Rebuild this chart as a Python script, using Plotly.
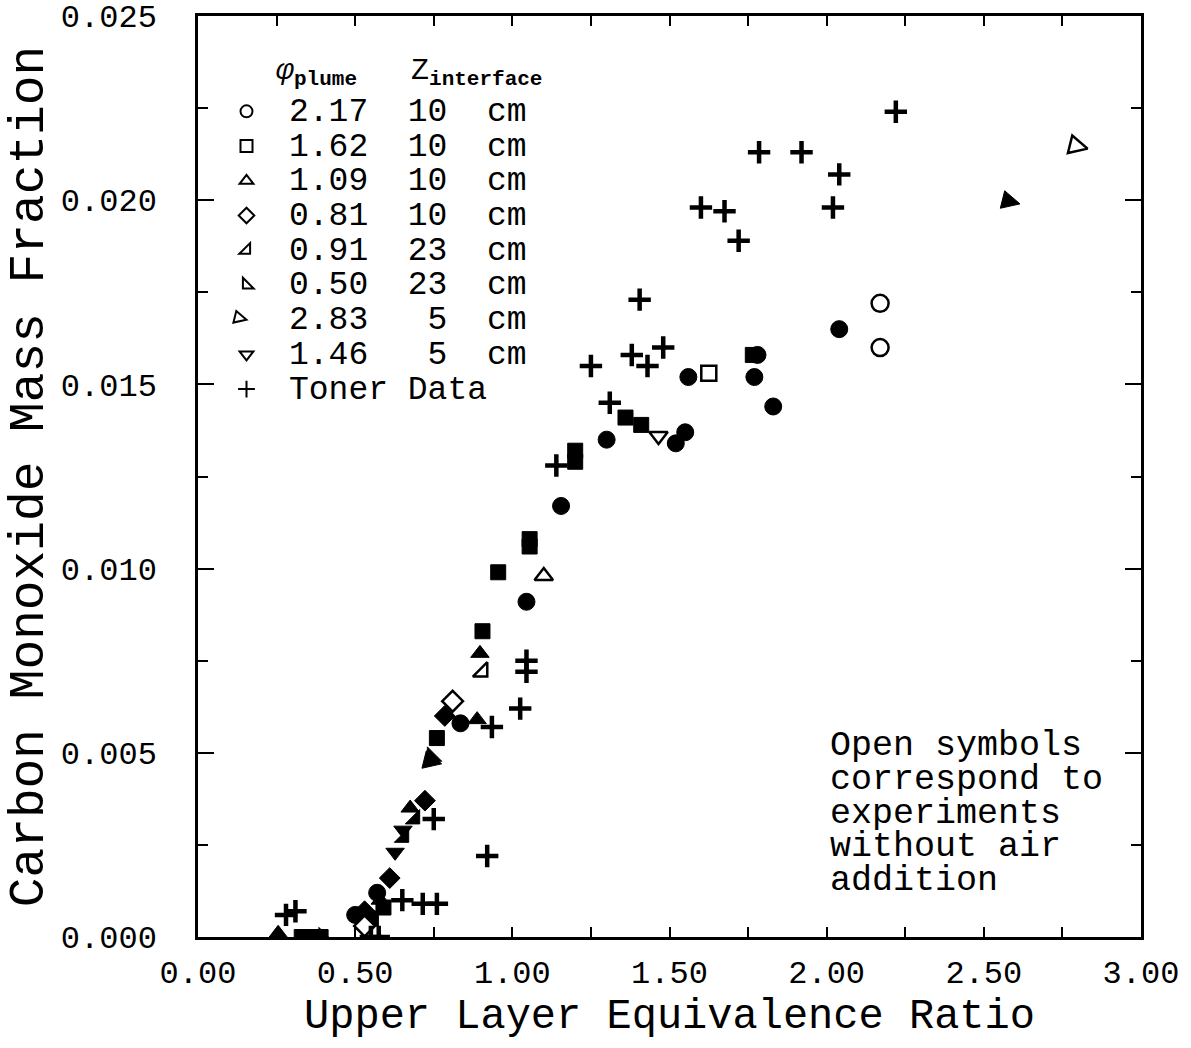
import plotly.graph_objects as go

# ---------------- data ----------------
phi_plume = ["2.17", "1.62", "1.09", "0.81", "0.91", "0.50", "2.83", "1.46"]
z_interface = ["10", "10", "10", "10", "23", "23", "5", "5"]

# filled symbols: experiments with air addition
air_x = [
    [2.04, 1.78, 1.77, 1.83, 1.56, 1.55, 1.52, 1.30, 1.155, 1.045, 0.835, 0.57, 0.50],
    [1.36, 1.41, 1.20, 1.20, 1.055, 1.055, 0.955, 0.905, 0.76, 1.765, 0.33, 0.36, 0.39, 0.59, 0.55],
    [0.897, 0.888, 0.675, 0.255, 0.58],
    [0.785, 0.722, 0.61, 0.53],
    [0.69, 0.655],
    [0.745, 0.40],
    [2.615, 0.775],
    [0.652, 0.627],
]
air_y = [
    [0.0165, 0.0158, 0.0152, 0.0144, 0.0152, 0.0137, 0.0134, 0.0135, 0.0117, 0.0091, 0.0058, 0.0012, 0.0006],
    [0.0141, 0.0139, 0.0132, 0.0129, 0.0108, 0.0106, 0.0099, 0.0083, 0.0054, 0.0158, 0.0, 0.0, 0.0, 0.0008, 0.0005],
    [0.0077, 0.0059, 0.0035, 0.0001, 0.0010],
    [0.0060, 0.0037, 0.0016, 0.0007],
    [0.0032, 0.0027],
    [0.0049, 0.0000],
    [0.0199, 0.0047],
    [0.0029, 0.0023],
]
# open symbols: experiments without air addition
noair_x = [[2.17, 2.17], [1.625], [1.10], [0.81, 0.53], [0.905], [None], [2.83], [1.465]]
noair_y = [[0.0172, 0.0160], [0.0153], [0.0098], [0.0064, 0.0003], [0.0072], [None], [0.0214], [0.0136]]

toner_x = [2.22, 1.785, 1.92, 2.04, 2.02, 1.60, 1.675, 1.72, 1.405, 1.38, 1.43, 1.48,
           1.25, 1.31, 1.14, 1.045, 1.045, 1.025, 0.935, 0.75, 0.92, 0.65, 0.715, 0.76,
           0.28, 0.31, 0.55, 0.575]
toner_y = [0.0224, 0.0213, 0.0213, 0.0207, 0.0198, 0.0198, 0.0197, 0.0189, 0.0173, 0.0158, 0.0155, 0.0160,
           0.0155, 0.0145, 0.0128, 0.0075, 0.0072, 0.0062, 0.0057, 0.0032, 0.0022, 0.0010, 0.0009, 0.0009,
           0.0006, 0.0007, 0.0000, 0.0000]

note_lines = ["Open symbols", "correspond to", "experiments", "without air", "addition"]
legend_header = "<i>φ</i><sub><b>plume</b></sub>   Z<sub><b>interface</b></sub>"

# ---------------- styles ----------------
SYMBOLS = ["circle", "square", "triangle-up", "diamond", "triangle-se", "triangle-sw", "arrow-right", "triangle-down"]
ANGLES = [0, 0, 0, 0, 0, 0, 14, 0]
SIZES = [17, 15, 16, 16, 16, 16, 18, 16]
MONO = "Liberation Mono"

fig = go.Figure()

for i in range(len(phi_plume)):
    fig.add_trace(go.Scatter(
        x=air_x[i], y=air_y[i], mode="markers",
        legendgroup=f"g{i}", showlegend=False,
        marker=dict(symbol=SYMBOLS[i], angle=ANGLES[i], size=SIZES[i], color="black",
                    line=dict(color="black", width=1)),
        hoverinfo="x+y",
    ))

for i in range(len(phi_plume)):
    name = f'<span style="font-size:33px">{phi_plume[i]}  {z_interface[i]:>2}  cm</span>'
    fig.add_trace(go.Scatter(
        x=noair_x[i], y=noair_y[i], mode="markers", name=name,
        legendgroup=f"g{i}", showlegend=True,
        marker=dict(symbol=SYMBOLS[i], angle=ANGLES[i], size=SIZES[i], color="white",
                    line=dict(color="black", width=2.5)),
        hoverinfo="x+y",
    ))

fig.add_trace(go.Scatter(
    x=toner_x, y=toner_y, mode="markers",
    name='<span style="font-size:33px">Toner Data</span>',
    marker=dict(symbol="cross-thin", size=16, color="black", line=dict(color="black", width=4.5)),
    hoverinfo="x+y",
))

# legend header (column titles)
fig.add_annotation(
    text=legend_header, xref="paper", yref="paper",
    x=(274 - 198) / 943, y=(937 - 72) / 921, xanchor="left", yanchor="middle",
    showarrow=False, font=dict(family=MONO, size=30, color="black"),
)

# note block (tight line spacing as in the original)
fig.add_annotation(
    text='<span style="font-size:35px">' + "<br>".join(note_lines) + "</span>",
    xref="paper", yref="paper",
    x=(828 - 198) / 943, y=(937 - 813) / 921,
    xanchor="left", yanchor="middle", align="left", showarrow=False,
    font=dict(family=MONO, size=26, color="black"),
)

axis_common = dict(
    showline=True, linecolor="black", linewidth=2.5, mirror="allticks",
    ticks="inside", tickcolor="black", tickwidth=2,
    showgrid=False, zeroline=False, automargin=False,
    tickfont=dict(family=MONO, size=32, color="black"),
)

fig.update_xaxes(
    **axis_common, range=[0, 3], dtick=0.5, tick0=0, tickformat=".2f", ticklen=10,
    minor=dict(dtick=0.25, ticks="inside", ticklen=10, tickcolor="black", tickwidth=2),
    ticklabelstandoff=5,
    title=dict(text="Upper Layer Equivalence Ratio",
               font=dict(family=MONO, size=42, color="black"), standoff=0),
)
fig.update_yaxes(
    **axis_common, range=[0, 0.025], dtick=0.005, tick0=0, tickformat=".3f", ticklen=16,
    minor=dict(dtick=0.0025, ticks="inside", ticklen=10, tickcolor="black", tickwidth=2),
    ticklabelstandoff=32,
    title=dict(text="Carbon Monoxide Mass Fraction", font=dict(family=MONO, size=49.5, color="black"), standoff=2),
)

fig.update_layout(
    width=1191, height=1048,
    margin=dict(l=198, r=50, t=16, b=111, autoexpand=False),
    paper_bgcolor="white", plot_bgcolor="white",
    showlegend=True,
    legend=dict(
        x=(204 - 198) / 943, y=(937 - 89) / 921, xanchor="left", yanchor="top",
        bgcolor="rgba(0,0,0,0)", borderwidth=0,
        font=dict(family=MONO, size=24.4, color="black"),
        itemwidth=75, itemsizing="constant", tracegroupgap=0,
    ),
)

fig.write_html("out.html")
